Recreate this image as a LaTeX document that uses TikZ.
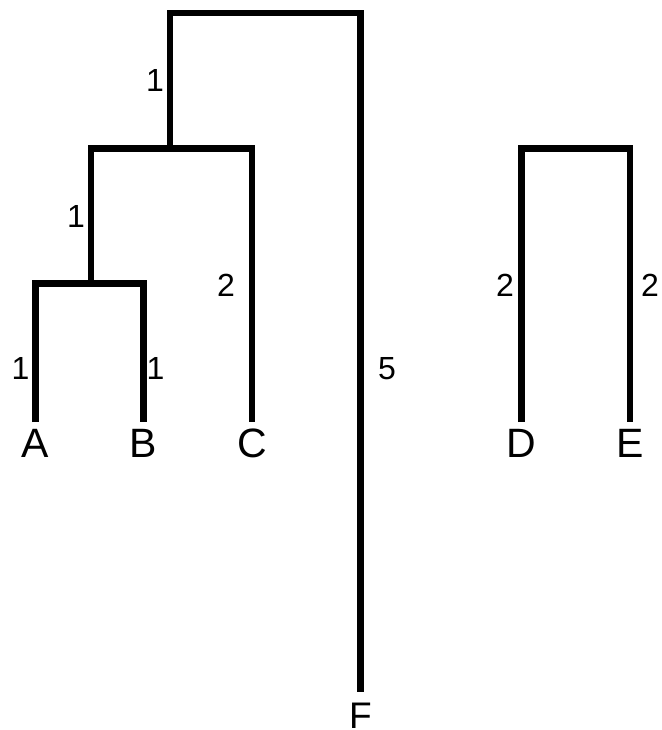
\documentclass[tikz,border=0pt]{standalone}
\usepackage{fontspec}
\setmainfont{Liberation Sans}
\begin{document}
\begin{tikzpicture}[x=1pt,y=-1pt,
  branch/.style={line width=6.5pt, line join=miter, line cap=butt},
  leaf/.style={font=\fontsize{41}{41}\selectfont, inner xsep=0pt, inner ysep=6pt, text height=29.5pt, text depth=0pt, anchor=north},
  wt/.style={font=\fontsize{32}{32}\selectfont, inner sep=0pt, text height=23pt, text depth=0pt}]
\useasboundingbox (0,0) rectangle (661,730);
% leaves
\node[leaf] (A) at (35.5,422) {A};
\node[leaf] (B) at (143.5,422) {B};
\node[leaf] (C) at (252,422) {C};
\node[leaf] (D) at (521.5,422) {D};
\node[leaf] (E) at (630,422) {E};
\node[leaf, font=\fontsize{37}{37}\selectfont, inner ysep=0pt, text height=26.5pt] (F) at (360.5,702) {F};
% internal nodes
\coordinate (root) at (265,13);
\coordinate (abc) at (170,148.5);
\coordinate (ab) at (91,283.5);
\coordinate (de) at (575,148.5);
% branches
\draw[branch, shorten >=10pt] (abc) |- (root) -| (F.north);
\draw[branch] (ab) |- (abc) -| (C.north);
\draw[branch] (A.north) |- (ab) -| (B.north);
\draw[branch] (D.north) |- (de) -| (E.north);
% weights
\node[wt] (w1) at (155,80.5) {1};
\node[wt] (w2) at (76,215.5) {1};
\node[wt] (w3) at (226,284.5) {2};
\node[wt] (w4) at (20.5,367.5) {1};
\node[wt] (w5) at (155.5,367.5) {1};
\node[wt] (w6) at (387,367.5) {5};
\node[wt] (w7) at (505,284.5) {2};
\node[wt] (w8) at (650,284.5) {2};
\end{tikzpicture}
\end{document}
